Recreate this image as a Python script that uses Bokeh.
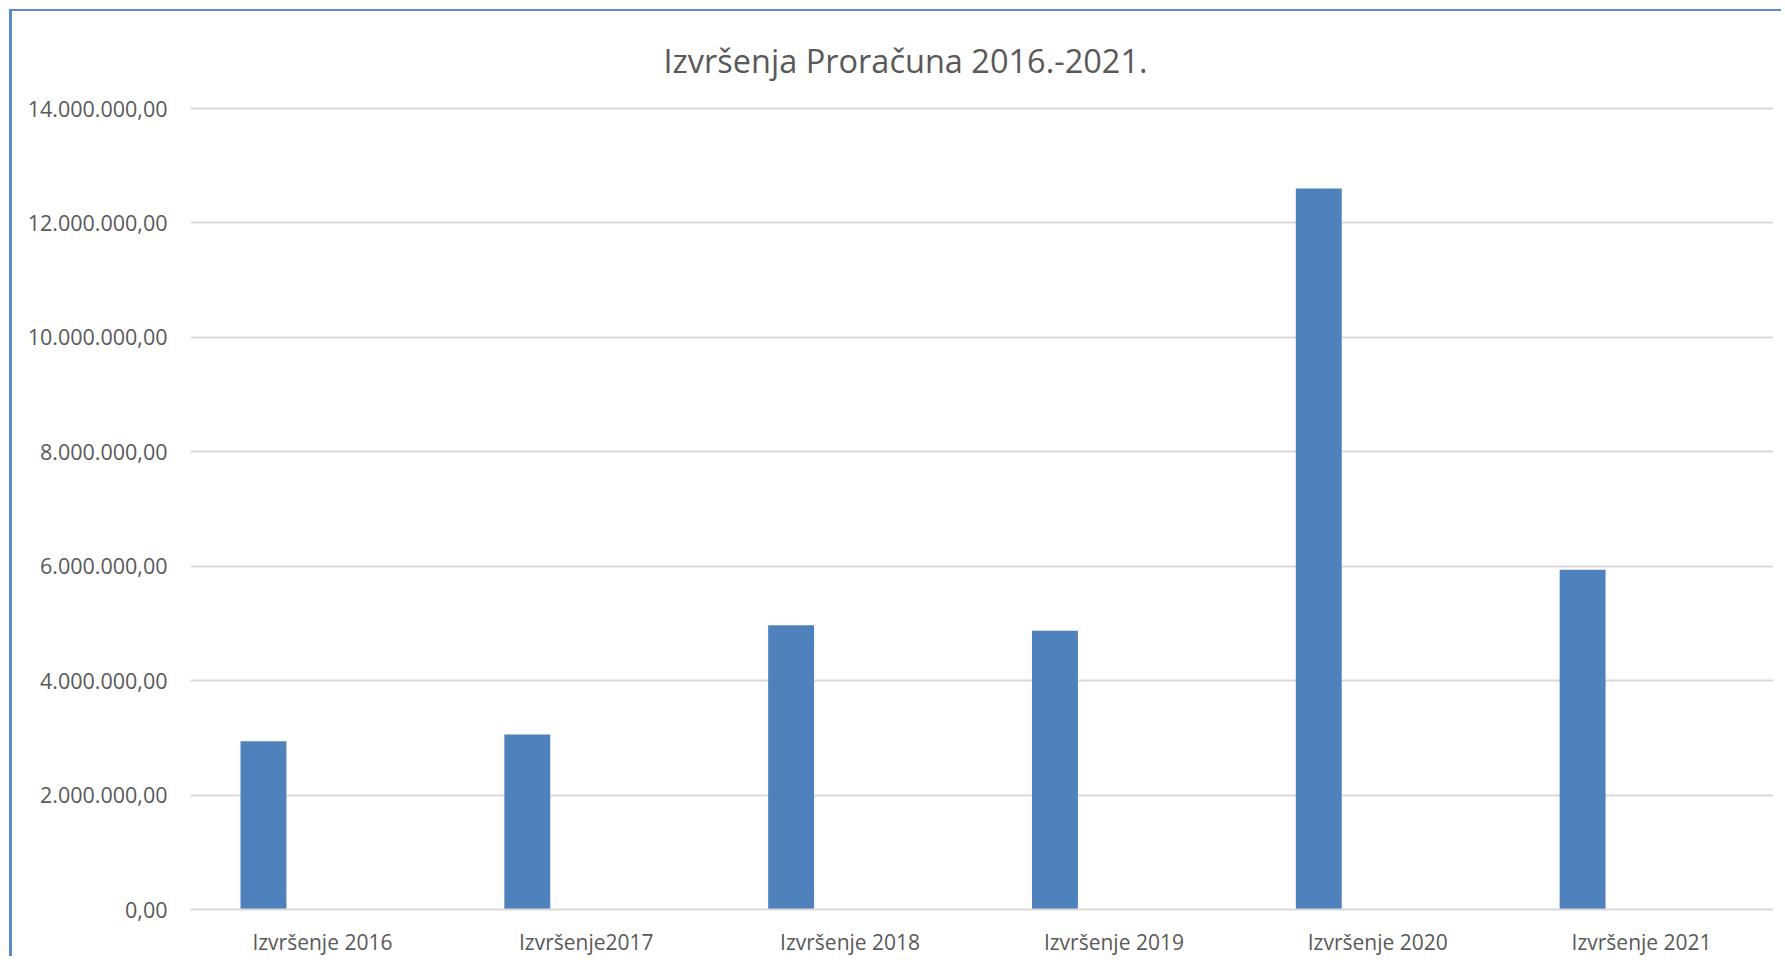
from bokeh.plotting import figure
from bokeh.models import Range1d, FixedTicker, FactorRange, ColumnDataSource
from bokeh.transform import dodge
from bokeh.embed import file_html
from bokeh.resources import INLINE

categories = ["Izvršenje 2016", "Izvršenje2017", "Izvršenje 2018",
              "Izvršenje 2019", "Izvršenje 2020", "Izvršenje 2021"]
values = [2940000, 3060000, 4970000, 4870000, 12600000, 5940000]
tick_values = [0, 2000000, 4000000, 6000000, 8000000, 10000000, 12000000, 14000000]
tick_labels = ["0,00", "2.000.000,00", "4.000.000,00", "6.000.000,00",
               "8.000.000,00", "10.000.000,00", "12.000.000,00", "14.000.000,00"]
title_text = "Izvršenja Proračuna 2016.-2021."

FONT = "Open Sans"
GREY = "#595959"

src = ColumnDataSource(dict(cat=categories, val=values))

p = figure(x_range=FactorRange(*categories), y_range=Range1d(0, 14.035e6),
           width=1772, height=947, output_backend="svg", toolbar_location=None,
           min_border_left=178, min_border_right=11, min_border_top=92,
           min_border_bottom=49)
p.styles = {"border-left": "3px solid #5b8bc8", "border-top": "2px solid #5b8bc8",
            "margin-left": "9px", "margin-top": "9px"}

p.title.text = title_text
p.title.align = "left"
p.title.offset = 473
p.title.text_font = FONT
p.title.text_font_size = "32.5px"
p.title.text_font_style = "normal"
p.title.text_color = GREY
p.title.standoff = 48

p.vbar(x=dodge("cat", -0.2235, range=p.x_range), top="val", width=0.174,
       source=src, fill_color="#4f81bd", line_color=None)

p.outline_line_color = None
p.xgrid.grid_line_color = None
p.ygrid.grid_line_color = "#d9d9d9"
p.ygrid.grid_line_width = 2
p.ygrid.ticker = FixedTicker(ticks=tick_values)

p.yaxis.ticker = FixedTicker(ticks=tick_values)
p.yaxis.major_label_overrides = {v: l for v, l in zip(tick_values, tick_labels)}
p.yaxis.axis_line_color = None
p.yaxis.major_tick_line_color = None
p.yaxis.minor_tick_line_color = None
p.yaxis.major_tick_out = 0
p.yaxis.major_tick_in = 0
p.yaxis.major_label_standoff = 23
p.yaxis.major_label_text_font = FONT
p.yaxis.major_label_text_font_size = "21.5px"
p.yaxis.major_label_text_color = GREY

p.xaxis.axis_line_color = "#d9d9d9"
p.xaxis.axis_line_width = 2
p.xaxis.major_tick_line_color = None
p.xaxis.minor_tick_line_color = None
p.xaxis.major_tick_out = 0
p.xaxis.major_tick_in = 0
p.xaxis.major_label_standoff = 18
p.xaxis.major_label_text_font = FONT
p.xaxis.major_label_text_font_size = "21px"
p.xaxis.major_label_text_color = GREY

open("out.html", "w").write(file_html(p, INLINE))
